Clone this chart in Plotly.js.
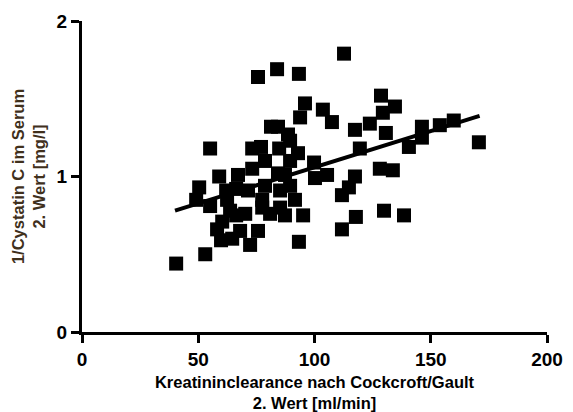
<!DOCTYPE html>
<html>
<head>
<meta charset="utf-8">
<script src="https://cdn.plot.ly/plotly-3.0.1.min.js"></script>
<style>html,body{margin:0;padding:0;background:#fff;}#chart{width:573px;height:412px;}</style>
</head>
<body>
<div id="chart"></div>
<script>
// Creatinine clearance (Cockcroft/Gault), 2nd value [ml/min]
var clearance = [
  112.7, 75.7, 83.9, 93.3, 95.9, 93.8, 103.6, 107.5, 117.4, 123.8,
  128.6, 129.4, 134.6, 130.7, 119.5, 146.2, 146.2, 140.6, 153.9, 159.9,
  170.7, 99.8, 105.4, 100.2, 117.4, 114.8, 111.8, 128.1, 133.7, 95.1,
  117.8, 111.8, 129.9, 138.5, 93.3, 92.9, 40.5, 53.0, 72.3, 55.1,
  59.0, 50.4, 49.1, 58.1, 59.8, 64.6, 66.3, 70.2, 77.5, 85.2,
  80.9, 87.3, 81.3, 84.3, 88.6, 73.2, 77.0, 84.8, 73.2, 67.1,
  66.3, 77.5, 84.3, 62.4, 60.3, 78.7, 89.5, 89.5, 78.7, 85.2,
  63.7, 71.4, 75.7, 55.1, 89.5, 91.6, 87.3, 62.0, 68.0
];
// 1/Cystatin C in serum, 2nd value [mg/l]
var invCystatin = [
  1.79, 1.64, 1.69, 1.66, 1.47, 1.38, 1.43, 1.35, 1.30, 1.34,
  1.52, 1.41, 1.45, 1.28, 1.18, 1.32, 1.25, 1.19, 1.33, 1.36,
  1.22, 1.09, 1.01, 0.99, 1.00, 0.93, 0.88, 1.05, 1.04, 0.75,
  0.74, 0.66, 0.78, 0.75, 0.58, 1.15, 0.44, 0.50, 0.56, 1.18,
  1.00, 0.93, 0.85, 0.66, 0.59, 0.60, 0.75, 0.76, 0.80, 0.80,
  0.76, 0.75, 1.32, 1.32, 1.27, 1.18, 1.19, 1.18, 1.05, 1.01,
  0.92, 0.85, 1.02, 0.85, 0.71, 1.10, 1.10, 0.94, 0.94, 0.91,
  0.78, 0.91, 0.65, 0.81, 1.23, 0.85, 1.01, 0.91, 0.65
];
// Linear regression line
var fitX = [40, 171];
var fitY = [0.78, 1.39];

var xTicks = [0, 50, 100, 150, 200];
var yTicks = [0, 1, 2];

var boldFont = {family: 'Liberation Sans, Arial, sans-serif', weight: 'bold', color: '#000'};

var data = [
  {
    x: clearance, y: invCystatin, type: 'scatter', mode: 'markers',
    marker: {symbol: 'square', size: 14, color: '#000', line: {width: 0}},
    hoverinfo: 'x+y', showlegend: false
  },
  {
    x: fitX, y: fitY, type: 'scatter', mode: 'lines',
    line: {color: '#000', width: 4}, hoverinfo: 'skip', showlegend: false
  }
];

var layout = {
  width: 573, height: 412,
  margin: {l: 82, r: 26, t: 21, b: 80, pad: 0},
  paper_bgcolor: '#fff', plot_bgcolor: '#fff',
  showlegend: false,
  xaxis: {
    range: [0, 200], tickvals: xTicks, ticktext: xTicks.map(String),
    showgrid: false, zeroline: false, showline: true, linecolor: '#000', linewidth: 3,
    ticks: 'outside', ticklen: 8, tickwidth: 3, tickcolor: '#000',
    tickfont: Object.assign({size: 19}, boldFont),
    title: {text: 'Kreatininclearance nach Cockcroft/Gault<br>2. Wert [ml/min]',
            font: Object.assign({size: 16.5}, boldFont), standoff: 8}
  },
  yaxis: {
    range: [0, 2], tickvals: yTicks, ticktext: yTicks.map(String),
    showgrid: false, zeroline: false, showline: true, linecolor: '#000', linewidth: 3,
    ticks: 'outside', ticklen: 8, tickwidth: 3, tickcolor: '#000',
    tickfont: Object.assign({size: 19}, boldFont),
    title: {text: '1/Cystatin C im Serum<br>2. Wert [mg/l]',
            font: {family: 'Liberation Sans, Arial, sans-serif', weight: 'bold', size: 16.5, color: '#40301c'},
            standoff: 7}
  }
};

Plotly.newPlot('chart', data, layout, {staticPlot: true, displayModeBar: false});
</script>
</body>
</html>
